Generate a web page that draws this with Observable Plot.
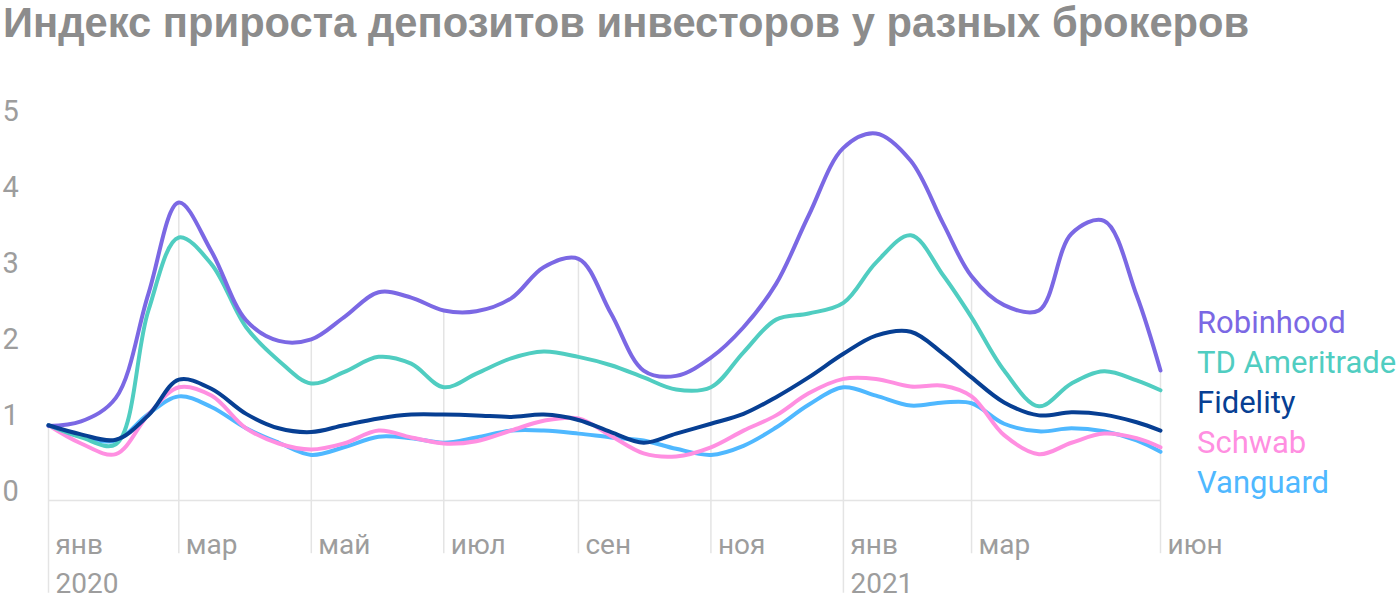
<!DOCTYPE html>
<html><head><meta charset="utf-8">
<script src="https://cdn.jsdelivr.net/npm/d3@7"></script>
<script src="https://cdn.jsdelivr.net/npm/@observablehq/plot@0.6"></script>
<style>
body{margin:0;background:#fff;}
#wrap{position:relative;width:1400px;height:604px;overflow:hidden;}
#title{height:56px;padding-left:3px;font-family:"Liberation Sans",Arial,sans-serif;font-weight:700;font-size:41.7px;color:#8c8c8c;line-height:46px;white-space:nowrap;}
#legend{position:absolute;left:1197px;top:303px;font-family:Roboto,sans-serif;font-size:31px;line-height:40px;white-space:nowrap;}
#chart svg{display:block;}
g[aria-label="years"] text{letter-spacing:2px;}
</style>
</head><body>
<div id="wrap">
<div id="title">Индекс прироста депозитов инвесторов у разных брокеров</div>
<div id="chart"></div>
<div id="legend"></div>
</div>
<script>
const dates = ["2020-01-01","2020-01-16","2020-02-01","2020-02-16","2020-03-01","2020-03-16","2020-04-01","2020-04-16","2020-05-01","2020-05-16","2020-06-01","2020-06-16","2020-07-01","2020-07-16","2020-08-01","2020-08-16","2020-09-01","2020-09-16","2020-10-01","2020-10-16","2020-11-01","2020-11-16","2020-12-01","2020-12-16","2021-01-01","2021-01-16","2021-02-01","2021-02-16","2021-03-01","2021-03-16","2021-04-01","2021-04-16","2021-05-01","2021-05-16","2021-05-27"];
const robinhood = [0.98,1.04,1.35,2.72,3.92,3.28,2.37,2.1,2.12,2.41,2.74,2.67,2.5,2.49,2.66,3.07,3.18,2.46,1.71,1.64,1.88,2.28,2.85,3.75,4.64,4.83,4.47,3.64,2.95,2.57,2.5,3.51,3.68,2.7,1.71];
const tdAmeritrade = [0.99,0.83,0.74,2.5,3.46,3.11,2.28,1.84,1.54,1.69,1.89,1.8,1.49,1.67,1.87,1.96,1.89,1.78,1.62,1.46,1.49,1.95,2.38,2.46,2.6,3.13,3.49,2.96,2.41,1.71,1.24,1.54,1.7,1.58,1.45];
const fidelity = [0.99,0.87,0.8,1.12,1.59,1.47,1.14,0.95,0.9,0.99,1.08,1.13,1.13,1.12,1.1,1.13,1.06,0.9,0.76,0.88,1.01,1.14,1.36,1.62,1.93,2.17,2.22,1.93,1.62,1.29,1.12,1.16,1.13,1.03,0.92];
const schwab = [0.99,0.75,0.61,1.13,1.49,1.38,0.95,0.75,0.67,0.75,0.92,0.83,0.75,0.78,0.92,1.05,1.08,0.85,0.62,0.58,0.7,0.92,1.12,1.41,1.6,1.6,1.5,1.51,1.37,0.86,0.61,0.76,0.88,0.82,0.7];
const vanguard = [0.99,0.84,0.79,1.14,1.37,1.23,0.95,0.76,0.6,0.7,0.84,0.82,0.76,0.83,0.92,0.92,0.88,0.83,0.79,0.68,0.6,0.72,0.96,1.26,1.49,1.38,1.25,1.29,1.28,1.01,0.91,0.95,0.91,0.79,0.64];

const seriesNames = ["Robinhood","TD Ameritrade","Fidelity","Schwab","Vanguard"];
const seriesColors = ["#7b68e4","#50cdc1","#073f93","#ff8fe1","#4fb8ff"];
const seriesValues = [robinhood, tdAmeritrade, fidelity, schwab, vanguard];
const drawOrder = ["Vanguard","Schwab","TD Ameritrade","Robinhood","Fidelity"];

const tickDates = ["2020-01-01","2020-03-01","2020-05-01","2020-07-01","2020-09-01","2020-11-01","2021-01-01","2021-03-01","2021-05-27"];
const tickLabels = ["янв","мар","май","июл","сен","ноя","янв","мар","июн"];
const yearDates = ["2020-01-01","2021-01-01"];
const yearLabels = ["2020","2021"];
const yTicks = [0,1,2,3,4,5];

const parse = s => new Date(s + "T00:00:00Z");
const rows = seriesNames.flatMap((name, k) => dates.map((d, i) => ({series: name, date: parse(d), value: seriesValues[k][i]})));
const monthDepth = -0.7, yearDepth = -1.22;
const grid = tickDates.map((d, i) => ({
  date: parse(d),
  top: robinhood[dates.indexOf(d)],
  bottom: yearDates.includes(d) ? yearDepth : monthDepth,
  label: tickLabels[i]
}));
const years = yearDates.map((d, i) => ({date: parse(d), label: yearLabels[i]}));

const labelStyle = {fontFamily: "Roboto, sans-serif", fontSize: 28, fill: "#9d9d9d"};

const plot = Plot.plot({
  width: 1400, height: 548,
  marginTop: 64, marginBottom: 104, marginLeft: 48, marginRight: 240,
  style: {background: "white", overflow: "visible"},
  x: {type: "utc", domain: [parse(dates[0]), parse(dates[dates.length - 1])], axis: null},
  y: {domain: [0, 5], axis: null},
  marks: [
    Plot.ruleX(grid, {x: "date", y1: "top", y2: "bottom", stroke: "#e4e4e4", strokeWidth: 1.5}),
    Plot.ruleY([0], {stroke: "#e4e4e4", strokeWidth: 1.5}),
    Plot.text(yTicks, {y: d => d, text: d => String(d), frameAnchor: "left", dx: -46, textAnchor: "start", lineAnchor: "bottom", ...labelStyle, fontSize: 29}),
    Plot.text(grid, {x: "date", y: monthDepth, text: "label", dx: 7, textAnchor: "start", lineAnchor: "bottom", ...labelStyle}),
    Plot.text(years, {x: "date", y: yearDepth, text: "label", dx: 7, textAnchor: "start", lineAnchor: "bottom", ariaLabel: "years", ...labelStyle}),
    ...drawOrder.map(name => Plot.line(rows.filter(r => r.series === name), {
      x: "date", y: "value", stroke: seriesColors[seriesNames.indexOf(name)],
      strokeWidth: 4, curve: "catmull-rom", strokeLinecap: "round", strokeLinejoin: "round"
    }))
  ]
});
document.getElementById("chart").appendChild(plot);

const legend = document.getElementById("legend");
seriesNames.forEach((name, k) => {
  const div = document.createElement("div");
  div.textContent = name;
  div.style.color = seriesColors[k];
  legend.appendChild(div);
});
</script>
</body></html>
